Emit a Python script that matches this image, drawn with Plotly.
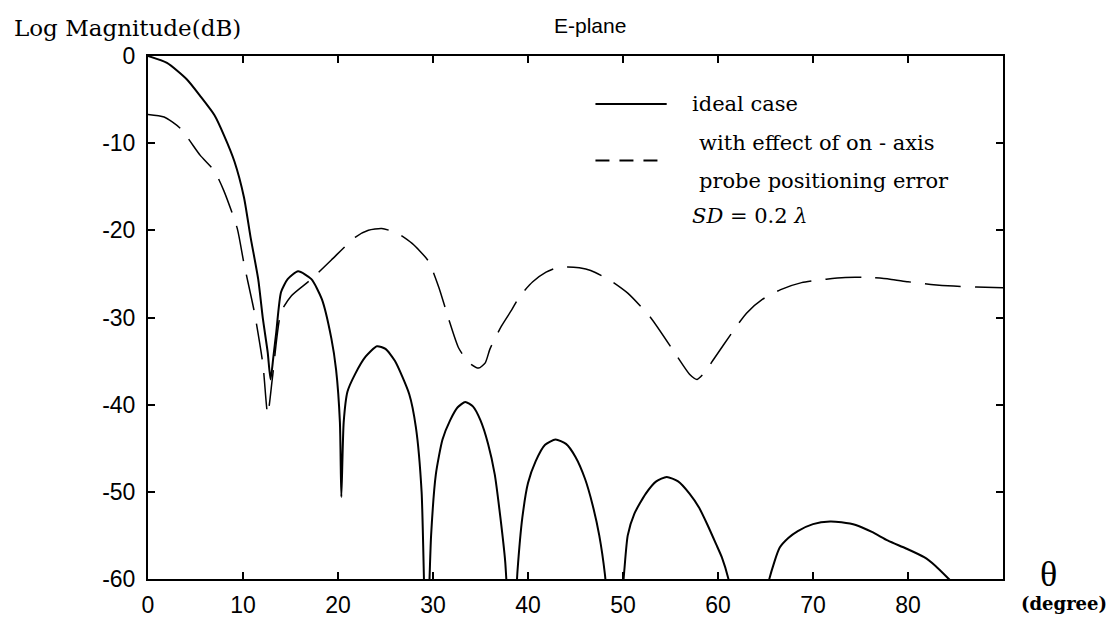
import plotly.graph_objects as go

# ---- data ----
theta_ideal = [0, 2.0, 4.1, 5.5, 7.0, 8.0, 9.1, 10.1, 10.8, 11.6, 12.1, 12.6, 12.9, 13.2, 13.5,
               14.0, 14.7, 15.8, 17.2, 18.3, 19.3, 19.8, 20.2, 20.35, 20.6, 21.0, 21.8, 22.9,
               24.1, 25.0, 26.0, 27.5, 28.2, 28.8, 29.3, 29.8, 30.3, 31.0, 31.8, 32.6, 33.4,
               34.2, 35.0, 35.8, 36.5, 37.1, 37.6, 38.3, 38.9, 39.4, 40.0, 40.8, 41.8, 42.9,
               44.0, 45.0, 46.0, 46.8, 47.5, 48.1, 49.1, 50.1, 50.5, 51.2, 52.4, 53.5, 54.6,
               55.8, 57.0, 58.0, 58.9, 59.8, 60.4, 61.1, 63.3, 65.4, 66.5, 67.4, 68.4, 70.0,
               71.8, 73.0, 74.5, 76.2, 77.9, 79.8, 81.7, 82.9, 84.3, 87.0, 90.0]
ideal_db = [0, -0.8, -2.7, -4.6, -6.8, -9.1, -12.1, -16.2, -20.8, -25.6, -30.2, -34.0, -37.1, -34.5, -31.7,
            -27.1, -25.6, -24.7, -25.6, -27.9, -32.4, -36.0, -42.0, -50.6, -42.0, -38.5, -36.5, -34.5,
            -33.3, -33.6, -35.0, -38.8, -42.6, -50.0, -70.0, -55.0, -48.0, -44.0, -41.8, -40.3, -39.7,
            -40.2, -41.8, -44.5, -48.0, -53.0, -58.0, -70.0, -59.0, -53.0, -49.0, -46.5, -44.6, -44.0,
            -44.5, -46.0, -48.5, -51.5, -55.0, -59.5, -72.0, -59.5, -55.0, -52.5, -50.2, -48.8, -48.3,
            -48.8, -50.2, -51.8, -53.8, -56.0, -57.5, -60.0, -72.0, -60.0, -56.4, -55.3, -54.5, -53.7,
            -53.4, -53.5, -53.8, -54.6, -55.6, -56.5, -57.5, -58.5, -60.0, -63.0, -66.0]

theta_err = [0, 1.7, 3.4, 5.5, 7.0, 8.0, 9.4, 10.1, 11.2, 12.1, 12.6, 13.1, 14.0, 15.1, 17.2,
             19.3, 21.8, 23.2, 24.6, 26.2, 27.8, 29.5, 30.6, 31.6, 32.7, 33.8, 34.8, 35.5,
             36.0, 37.2, 38.3, 39.1, 40.5, 41.9, 43.0, 44.2, 45.4, 46.6, 48.6, 50.5, 52.9,
             55.6, 57.0, 57.8, 58.6, 59.6, 61.5, 63.0, 64.7, 66.6, 68.8, 71.4, 73.4, 75.8,
             78.1, 80.0, 82.4, 84.8, 87.2, 90.0]
err_db = [-6.7, -7.0, -8.3, -11.4, -13.2, -15.5, -19.8, -23.8, -29.4, -35.4, -41.1, -36.9, -29.4, -27.5, -25.6,
          -23.4, -20.8, -20.0, -19.8, -20.3, -21.5, -23.5, -26.5, -30.0, -33.5, -35.2, -35.8, -35.2,
          -33.6, -31.0, -29.1, -27.6, -25.9, -24.8, -24.3, -24.2, -24.3, -24.6, -25.7, -27.2, -30.0,
          -34.3, -36.5, -37.1, -36.3, -34.7, -31.7, -29.5, -27.9, -26.8, -26.0, -25.6, -25.4, -25.4,
          -25.6, -25.9, -26.2, -26.4, -26.5, -26.6]

x_ticks = [0, 10, 20, 30, 40, 50, 60, 70, 80]
y_ticks = [0, -10, -20, -30, -40, -50, -60]

SANS = "Liberation Sans, Arial, sans-serif"
SERIF = "DejaVu Serif, serif"

fig = go.Figure()
fig.add_trace(go.Scatter(x=theta_ideal, y=ideal_db, mode="lines",
                         line=dict(color="black", width=2, shape="spline", smoothing=0.6),
                         name="ideal case", showlegend=False))
fig.add_trace(go.Scatter(x=theta_err, y=err_db, mode="lines",
                         line=dict(color="black", width=1.5, dash="36px,14px",
                                   shape="spline", smoothing=0.6),
                         name="with effect of on-axis probe positioning error", showlegend=False))

# legend samples (data coordinates, decoration only)
fig.add_shape(type="line", xref="x", yref="y", x0=47.1, x1=54.6, y0=-5.5, y1=-5.5,
              line=dict(color="black", width=2))
fig.add_shape(type="line", xref="x", yref="y", x0=47.1, x1=54.3, y0=-12.0, y1=-12.0,
              line=dict(color="black", width=2, dash="14px,10px"))

ann_font = dict(family=SERIF, size=21, color="black")
fig.add_annotation(x=57.1, y=-5.5, xref="x", yref="y", text="ideal case", showarrow=False,
                   xanchor="left", yanchor="middle", font=ann_font)
fig.add_annotation(x=57.8, y=-10.0, xref="x", yref="y", text="with effect of on - axis", showarrow=False,
                   xanchor="left", yanchor="middle", font=ann_font)
fig.add_annotation(x=57.8, y=-14.3, xref="x", yref="y", text="probe positioning error", showarrow=False,
                   xanchor="left", yanchor="middle", font=ann_font)
fig.add_annotation(x=57.1, y=-18.4, xref="x", yref="y", text="<i>SD</i> = 0.2 <i>λ</i>", showarrow=False,
                   xanchor="left", yanchor="middle", font=ann_font)

# titles
fig.add_annotation(x=-0.159, y=1.054, xref="paper", yref="paper", text="Log Magnitude(dB)",
                   showarrow=False, xanchor="left", yanchor="middle",
                   font=dict(family=SERIF, size=23, color="black"))
fig.add_annotation(x=0.517, y=1.058, xref="paper", yref="paper", text="E-plane",
                   showarrow=False, xanchor="center", yanchor="middle",
                   font=dict(family=SANS, size=21, color="black"))
fig.add_annotation(x=1.053, y=0.01, xref="paper", yref="paper", text="θ",
                   showarrow=False, xanchor="center", yanchor="middle",
                   font=dict(family="Liberation Serif, serif", size=36, color="black"))
fig.add_annotation(x=1.124, y=-0.047, xref="paper", yref="paper", text="<b>(degree)</b>",
                   showarrow=False, xanchor="right", yanchor="middle",
                   font=dict(family=SERIF, size=18, color="black"))

axis_common = dict(showline=True, linecolor="black", linewidth=2, mirror="ticks",
                   ticks="inside", ticklen=7, tickwidth=2, tickcolor="black",
                   showgrid=False, zeroline=False,
                   tickfont=dict(family=SANS, size=23, color="black"))

fig.update_xaxes(range=[0, 90], tickvals=x_ticks, ticktext=[str(v) for v in x_ticks],
                 ticklabelstandoff=4, **axis_common)
fig.update_yaxes(range=[-60, 0], tickvals=y_ticks, ticktext=[str(v) for v in y_ticks],
                 ticklabelstandoff=6, **axis_common)

fig.update_layout(width=1112, height=630, margin=dict(l=148, r=109, t=56, b=38),
                  paper_bgcolor="white", plot_bgcolor="white", showlegend=False)

fig.write_html("out.html")
